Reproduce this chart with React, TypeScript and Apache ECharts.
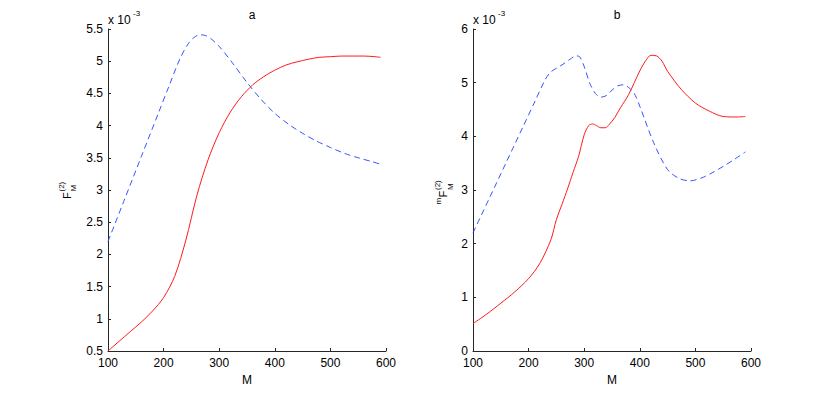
import React, { useEffect, useRef } from "react";
import * as echarts from "echarts";

// Panel a
const mA_red = [100, 120, 140, 160, 180, 200, 220, 240, 260, 280, 300, 320, 340, 360, 380, 400, 420, 440, 460, 480, 500, 520, 540, 560, 580, 590];
const fA_red = [0.5, 0.65, 0.8, 0.95, 1.12, 1.33, 1.66, 2.22, 2.92, 3.47, 3.89, 4.21, 4.45, 4.63, 4.76, 4.86, 4.94, 4.99, 5.03, 5.06, 5.07, 5.08, 5.08, 5.08, 5.07, 5.06];
const mA_blue = [100, 130, 160, 190, 210, 230, 245, 255, 265, 275, 285, 300, 325, 350, 375, 400, 425, 450, 475, 500, 525, 550, 575, 590];
const fA_blue = [2.2, 2.86, 3.52, 4.18, 4.62, 5.05, 5.28, 5.37, 5.41, 5.4, 5.35, 5.23, 4.96, 4.67, 4.41, 4.19, 4.02, 3.88, 3.76, 3.66, 3.57, 3.5, 3.44, 3.4];

// Panel b
const mB_red = [100, 125, 150, 175, 200, 220, 240, 250, 260, 270, 280, 290, 300, 308, 315, 322, 330, 338, 345, 355, 365, 380, 400, 410, 420, 430, 440, 450, 475, 500, 525, 550, 575, 590];
const fB_red = [0.51, 0.69, 0.89, 1.1, 1.35, 1.63, 2.07, 2.45, 2.73, 3.02, 3.33, 3.63, 4.03, 4.2, 4.23, 4.2, 4.16, 4.16, 4.22, 4.35, 4.53, 4.78, 5.22, 5.4, 5.51, 5.5, 5.4, 5.21, 4.87, 4.62, 4.47, 4.37, 4.36, 4.37];
const mB_blue = [100, 130, 160, 190, 210, 230, 240, 260, 275, 285, 292, 300, 310, 320, 330, 340, 350, 360, 370, 380, 390, 400, 425, 450, 470, 490, 510, 530, 550, 570, 590];
const fB_blue = [2.2, 2.86, 3.52, 4.18, 4.62, 5.06, 5.2, 5.33, 5.44, 5.5, 5.48, 5.3, 4.99, 4.8, 4.73, 4.76, 4.86, 4.94, 4.96, 4.91, 4.8, 4.56, 3.88, 3.38, 3.22, 3.17, 3.22, 3.32, 3.44, 3.57, 3.71];

const titles = ["a", "b"];
const xLabel = "M";
const scaleText = "x 10";
const scaleExp = "-3";

const FONT = "Liberation Sans, Arial, Helvetica, sans-serif";
const RED = "#ff1a1a";
const BLUE = "#3355ff";
const AXIS = "#262626";

const pairs = (xs: number[], ys: number[]) => xs.map((x, i) => [x, ys[i]]);

export default function App() {
  const ref = useRef<HTMLDivElement>(null);
  useEffect(() => {
    if (!ref.current) return;
    const chart = echarts.init(ref.current, null, { renderer: "svg" });
    const grids = [
      { left: 108, top: 29, width: 278, height: 322 },
      { left: 473, top: 29, width: 278, height: 322 },
    ];
    const xAxisCommon = {
      type: "value" as const,
      min: 100,
      max: 600,
      interval: 100,
      name: xLabel,
      nameLocation: "middle" as const,
      nameGap: 20,
      nameTextStyle: { color: "#000", fontSize: 12, fontFamily: FONT },
      axisLine: { show: true, lineStyle: { color: AXIS, width: 1 } },
      axisTick: { show: true, inside: true, length: 3, lineStyle: { color: AXIS } },
      axisLabel: { color: "#000", fontSize: 12, fontFamily: FONT, margin: 6 },
      splitLine: { show: false },
    };
    const yAxisCommon = {
      type: "value" as const,
      axisLine: { show: true, lineStyle: { color: AXIS, width: 1 } },
      axisTick: { show: true, inside: true, length: 3, lineStyle: { color: AXIS } },
      axisLabel: { color: "#000", fontSize: 12, fontFamily: FONT, margin: 5 },
      splitLine: { show: false },
    };
    const lineSeries = (xi: number, xs: number[], ys: number[], color: string, dashed: boolean) => ({
      type: "line" as const,
      xAxisIndex: xi,
      yAxisIndex: xi,
      data: pairs(xs, ys),
      smooth: 0.3,
      showSymbol: false,
      symbol: "none",
      lineStyle: { color, width: 1, type: dashed ? [6, 4] : "solid" },
    });
    const txt = (text: string, x: number, y: number, size: number) => ({
      type: "text",
      x,
      y,
      style: { text, fontSize: size, fontFamily: FONT, fill: "#000", align: "left", verticalAlign: "middle" },
    });
    // group rotated so text reads bottom-to-top; local x -> page up, local y -> page right
    const leftLabel = {
      type: "group",
      x: 67,
      y: 199,
      rotation: Math.PI / 2,
      children: [txt("F", 0, 0, 11), txt("(2)", 7.5, -6, 8), txt("M", 7.5, 6.5, 8)],
    };
    const rightLabel = {
      type: "group",
      x: 443,
      y: 197.5,
      rotation: Math.PI / 2,
      children: [txt("m", -7, -4.5, 8), txt("F", 0, 0, 11), txt("(2)", 7.5, -6, 8), txt("M", 7.5, 7, 8)],
    };
    const option: any = {
      animation: false,
      backgroundColor: "#fff",
      title: titles.map((t, i) => ({
        text: t,
        left: grids[i].left + grids[i].width / 2,
        top: 4,
        textAlign: "center",
        textStyle: { fontSize: 12, fontWeight: "normal", color: "#000", fontFamily: FONT },
      })),
      grid: grids,
      xAxis: [
        { ...xAxisCommon, gridIndex: 0 },
        { ...xAxisCommon, gridIndex: 1 },
      ],
      yAxis: [
        { ...yAxisCommon, gridIndex: 0, min: 0.5, max: 5.5, interval: 0.5 },
        { ...yAxisCommon, gridIndex: 1, min: 0, max: 6, interval: 1 },
      ],
      series: [
        lineSeries(0, mA_blue, fA_blue, BLUE, true),
        lineSeries(0, mA_red, fA_red, RED, false),
        lineSeries(1, mB_blue, fB_blue, BLUE, true),
        lineSeries(1, mB_red, fB_red, RED, false),
      ],
      graphic: [
        { type: "text", x: 108, y: 20, style: { text: scaleText, fontSize: 12, fontFamily: FONT, fill: "#000", verticalAlign: "middle" } },
        { type: "text", x: 133, y: 13, style: { text: scaleExp, fontSize: 8, fontFamily: FONT, fill: "#000", verticalAlign: "middle" } },
        { type: "text", x: 473, y: 20, style: { text: scaleText, fontSize: 12, fontFamily: FONT, fill: "#000", verticalAlign: "middle" } },
        { type: "text", x: 498, y: 13, style: { text: scaleExp, fontSize: 8, fontFamily: FONT, fill: "#000", verticalAlign: "middle" } },
        leftLabel,
        rightLabel,
      ],
    };
    chart.setOption(option);
    return () => chart.dispose();
  }, []);
  return (
    <div
      ref={ref}
      style={{ position: "absolute", left: 0, top: 0, width: 830, height: 395, background: "#fff" }}
    />
  );
}
